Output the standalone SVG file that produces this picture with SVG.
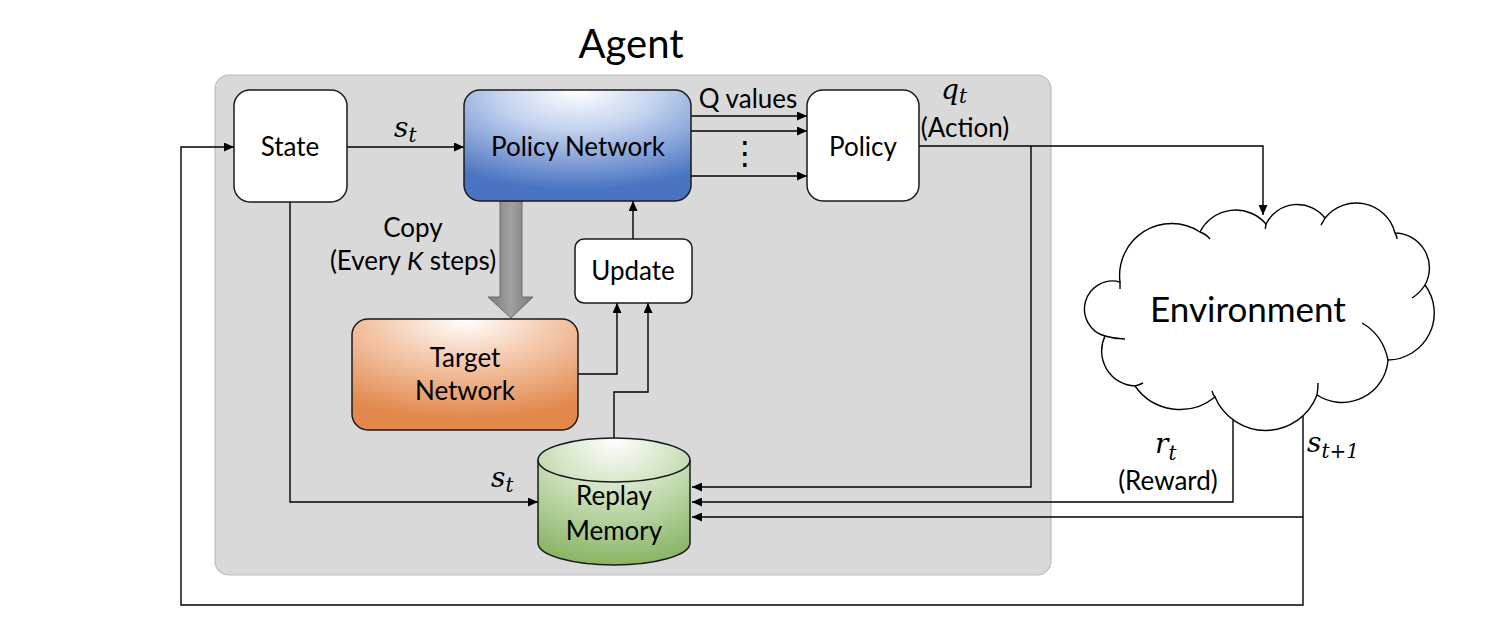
<svg xmlns="http://www.w3.org/2000/svg" width="1486" height="618" viewBox="0 0 1486 618">
<style>
.lbl{font-family:Lato,"Liberation Sans",sans-serif;font-size:26px;fill:#000;text-anchor:middle}
.math{font-family:"DejaVu Serif","Liberation Serif",serif;font-style:italic;fill:#000}
.box{stroke:#1a1a1a;stroke-width:1.5}
.ln{fill:none;stroke:#000;stroke-width:1.4}
.arr{marker-end:url(#ah)}
</style>
<defs>
<marker id="ah" markerUnits="userSpaceOnUse" markerWidth="11" markerHeight="9" refX="10" refY="4.5" orient="auto">
<path d="M0,0 L10,4.5 L0,9 z" fill="#000"/>
</marker>
<radialGradient id="gBlue" cx="50%" cy="0%" r="90%" fx="50%" fy="0%">
<stop offset="0" stop-color="#ffffff"/>
<stop offset="0.4" stop-color="#c3d2ee"/>
<stop offset="1" stop-color="#4a74c2"/>
</radialGradient>
<radialGradient id="gOrange" cx="50%" cy="0%" r="90%" fx="50%" fy="0%">
<stop offset="0" stop-color="#ffffff"/>
<stop offset="0.4" stop-color="#f5cdb2"/>
<stop offset="1" stop-color="#e2884c"/>
</radialGradient>
<radialGradient id="gGreen" cx="50%" cy="0%" r="100%" fx="50%" fy="0%">
<stop offset="0" stop-color="#ffffff"/>
<stop offset="0.4" stop-color="#d3e5c4"/>
<stop offset="1" stop-color="#8ab566"/>
</radialGradient>
<linearGradient id="gGray" x1="0" y1="0" x2="1" y2="0">
<stop offset="0" stop-color="#7a7a7a"/>
<stop offset="0.5" stop-color="#a0a0a0"/>
<stop offset="1" stop-color="#7a7a7a"/>
</linearGradient>
</defs>
<rect width="1486" height="618" fill="#fff"/>

<g id="agent">
<rect x="215" y="75" width="836" height="500" rx="14" fill="#d9d9d9" stroke="#bdbdbd" stroke-width="1.2"/>
<text class="lbl" x="631" y="58" style="font-size:40px">Agent</text>
</g>

<g id="connectors">
<path class="ln arr" d="M347,147 H464"/>
<path class="ln arr" d="M691,116 H807"/>
<path class="ln arr" d="M691,131 H807"/>
<path class="ln arr" d="M691,176 H807"/>
<path class="ln arr" d="M919,146 H1263 V215"/>
<path class="ln arr" d="M1031,146 V487 H692"/>
<path class="ln arr" d="M1233,419 V502 H692"/>
<path class="ln arr" d="M1303,416 V517 H692"/>
<path class="ln arr" d="M1303,517 V605 H181 V147 H234"/>
<path class="ln arr" d="M290,202 V502 H538"/>
<path class="ln arr" d="M633,239 V201"/>
<path class="ln arr" d="M578,374 H617 V303"/>
<path class="ln arr" d="M614,438 V392 H648 V303"/>
<polygon id="copy-arrow" points="500,201 522,201 522,297 533,297 511,318 488,297 500,297" fill="url(#gGray)" stroke="#6a6a6a" stroke-width="1"/>
</g>

<g id="state">
<rect class="box" x="234" y="90" width="113" height="112" rx="16" fill="#fff"/>
<text class="lbl" x="290" y="156">State</text>
</g>

<g id="policy-network">
<rect class="box" x="464" y="90" width="227" height="111" rx="16" fill="url(#gBlue)"/>
<text class="lbl" x="578" y="156">Policy Network</text>
</g>

<g id="policy">
<rect class="box" x="807" y="90" width="112" height="111" rx="16" fill="#fff"/>
<text class="lbl" x="863" y="156">Policy</text>
</g>

<g id="update">
<rect class="box" x="575" y="239" width="117" height="64" rx="9" fill="#fff"/>
<text class="lbl" x="633" y="280">Update</text>
</g>

<g id="target-network">
<rect class="box" x="352" y="319" width="226" height="111" rx="16" fill="url(#gOrange)"/>
<text class="lbl" x="465" y="367">Target</text>
<text class="lbl" x="465" y="400">Network</text>
</g>

<g id="replay-memory">
<path d="M538,460 A76,22 0 0 1 690,460 V543 A76,22 0 0 1 538,543 Z" fill="url(#gGreen)" stroke="#1a1a1a" stroke-width="1.5"/>
<path d="M538,460 A76,22 0 0 0 690,460" fill="none" stroke="#1a1a1a" stroke-width="1.5"/>
<text class="lbl" x="614" y="505">Replay</text>
<text class="lbl" x="614" y="540">Memory</text>
</g>

<g id="environment">
<path d="M1200,232 A40,40 0 0 1 1266,224 A35,35 0 0 1 1325,218 A40,40 0 0 1 1395,233 A35,35 0 0 1 1425,285 A47,47 0 0 1 1388,360 A46,46 0 0 1 1317,395 A55,55 0 0 1 1215,397 A55,55 0 0 1 1135,386 A35,35 0 0 1 1105,336 A28,28 0 0 1 1120,282 A52,52 0 0 1 1200,232 Z" fill="#fff" stroke="#000" stroke-width="1.4"/>
<path d="M1200,232 q6,2 10,7 M1266,224 q0,3 -1,5 M1325,218 q-2,4 -4,7 M1395,233 q2,3 2,6 M1425,285 q-5,8 -13,13 M1388,360 q-5,-25 -26,-37 M1317,395 q1,-6 1,-12 M1215,397 q-2,-2 -3,-6 M1135,386 q4,-1 8,-3 M1105,336 q10,3 20,3 M1120,282 q0,4 0,7" fill="none" stroke="#000" stroke-width="1.4"/>
<text class="lbl" x="1248" y="322" style="font-size:35px">Environment</text>
</g>

<g id="labels">
<text class="lbl" x="748" y="108">Q values</text>
<text x="745" y="164" style="font-family:'DejaVu Sans',sans-serif;font-size:32px;text-anchor:middle">⋮</text>
<text class="lbl" x="413" y="237">Copy</text>
<text class="lbl" x="413" y="270">(Every <tspan font-style="italic">K</tspan> steps)</text>
<text class="lbl" x="965" y="137">(Action)</text>
<text class="math" x="394" y="137" font-size="28">s<tspan font-size="20" dy="5">t</tspan></text>
<text class="math" x="491" y="487" font-size="28">s<tspan font-size="20" dy="5">t</tspan></text>
<text class="math" x="941" y="99" font-size="28">q<tspan font-size="20" dy="4">t</tspan></text>
<text class="lbl" x="1168" y="490">(Reward)</text>
<text class="math" x="1155" y="453" font-size="28">r<tspan font-size="20" dy="7">t</tspan></text>
<text class="math" x="1307" y="452" font-size="28">s<tspan font-size="20" dy="6">t+1</tspan></text>
</g>
</svg>
